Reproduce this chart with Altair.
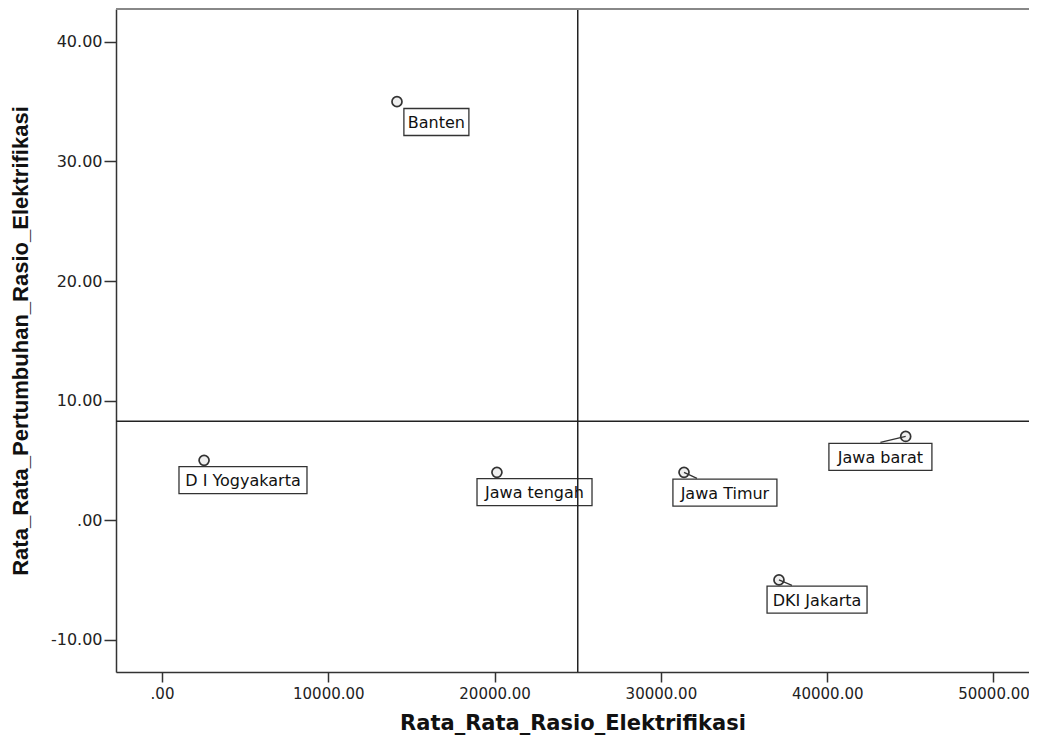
import altair as alt
import pandas as pd

# ---- data ----
provinces = ["Banten", "D I Yogyakarta", "Jawa tengah", "Jawa Timur", "Jawa barat", "DKI Jakarta"]
rasio = [14130, 2530, 20140, 31390, 44720, 37100]          # Rata_Rata_Rasio_Elektrifikasi
pertumbuhan = [35.0, 5.0, 4.0, 4.0, 7.0, -5.0]              # Rata_Rata_Pertumbuhan_Rasio_Elektrifikasi
# label anchor (box centre) in data units, as placed in the source chart
label_x = [16500, 4870, 22400, 33850, 43200, 39390]
label_y = [33.3, 3.35, 2.35, 2.3, 5.3, -6.65]
# end of the little leader line from point towards its label, data units
leader_x = [14130, 2530, 20140, 32170, 43200, 37880]
leader_y = [35.0, 5.0, 4.0, 3.5, 6.5, -5.45]
x_ticks = [0, 10000, 20000, 30000, 40000, 50000]
y_ticks = [-10, 0, 10, 20, 30, 40]
ref_x = [25000]
ref_y = [8.28]

# ---- styles ----
box_w = [65, 128, 115, 104, 103, 100]
BOX_H = 27
BG = "#efefef"

df = pd.DataFrame({
    "prov": provinces, "x": rasio, "y": pertumbuhan,
    "lx": label_x, "ly": label_y, "ex": leader_x, "ey": leader_y,
})

xs = alt.Scale(domain=[-2766, 52135], nice=False, zero=False)
ys = alt.Scale(domain=[-12.7, 42.75], nice=False, zero=False)

lab_expr = ("datum.value == 0 ? '.00' : "
            "(datum.value < 0 ? '-' : '') + format(abs(datum.value), '.2f')")

x_axis = alt.Axis(values=x_ticks, labelExpr=lab_expr, grid=False,
                  title="Rata_Rata_Rasio_Elektrifikasi",
                  tickSize=10, labelPadding=4, titlePadding=11,
                  labelFont="DejaVu Sans", labelFontSize=15, labelColor="#222",
                  titleFont="DejaVu Sans", titleFontSize=21, titleFontWeight="bold",
                  titleColor="#111", domainColor="#333", tickColor="#333",
                  domainWidth=1.5, tickWidth=1.5)
y_axis = alt.Axis(values=y_ticks, labelExpr=lab_expr, grid=False,
                  title="Rata_Rata_Pertumbuhan_Rasio_Elektrifikasi",
                  tickSize=12, labelPadding=2, titlePadding=18,
                  labelFont="DejaVu Sans", labelFontSize=16, labelColor="#222",
                  titleFont="Liberation Sans", titleFontSize=22, titleFontWeight="bold",
                  titleColor="#111", domainColor="#333", tickColor="#333",
                  domainWidth=1.5, tickWidth=1.5)

base = alt.Chart(df)

points = base.mark_point(shape="circle", size=100, filled=False, stroke="#333",
                         strokeWidth=1.7, fill=BG, fillOpacity=1).encode(
    x=alt.X("x:Q", scale=xs, axis=x_axis),
    y=alt.Y("y:Q", scale=ys, axis=y_axis),
)

leaders = base.mark_rule(color="#333", strokeWidth=1.3).encode(
    x="x:Q", y="y:Q", x2="ex:Q", y2="ey:Q")

boxes = []
for i, w in enumerate(box_w):
    boxes.append(
        alt.Chart(df.iloc[[i]]).mark_rect(width=w, height=BOX_H, fill="white",
                                          stroke="#333", strokeWidth=1.3).encode(
            x="lx:Q", y="ly:Q")
    )

texts = base.mark_text(font="DejaVu Sans", fontSize=16, color="#111",
                       align="center", baseline="middle", dy=1).encode(
    x="lx:Q", y="ly:Q", text="prov:N")

vref = alt.Chart(pd.DataFrame({"v": ref_x})).mark_rule(color="#222", strokeWidth=1.5).encode(
    x="v:Q")
href = alt.Chart(pd.DataFrame({"h": ref_y})).mark_rule(color="#222", strokeWidth=1.5).encode(
    y="h:Q")

# top frame line of the plot box (SPSS style)
top_frame = alt.Chart(pd.DataFrame({"k": [0]})).mark_rule(color="#888", strokeWidth=2).encode(
    y=alt.value(0))

chart = alt.layer(points, leaders, *boxes, texts, vref, href, top_frame).properties(
    width=913, height=663,
    autosize=alt.AutoSizeParams(type="none"),
    padding={"left": 108, "top": 1, "right": 0, "bottom": 66},
).configure_view(
    fill=BG, stroke=None,
).configure(background="white")

chart.save("out.html", embed_options={"renderer": "svg", "actions": False})
